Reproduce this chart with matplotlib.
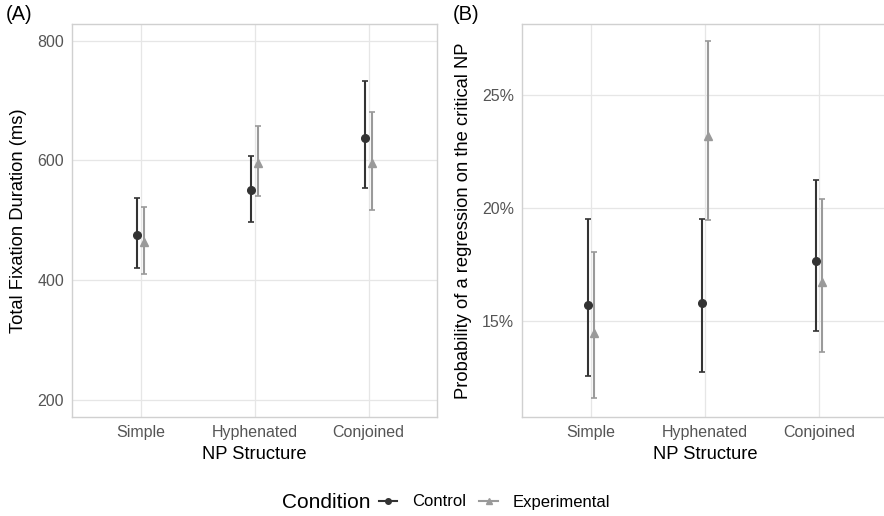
import numpy as np
import matplotlib.pyplot as plt
from matplotlib.lines import Line2D
from matplotlib.offsetbox import HPacker

categories = ["Simple", "Hyphenated", "Conjoined"]

# Panel A: total fixation duration (ms)
tfd_control = [476, 550, 637]
tfd_control_lo = [421, 498, 554]
tfd_control_hi = [538, 608, 733]
tfd_exp = [464, 596, 595]
tfd_exp_lo = [410, 540, 518]
tfd_exp_hi = [522, 657, 681]

# Panel B: probability of regression (%)
reg_control = [15.7, 15.8, 17.65]
reg_control_lo = [12.55, 12.7, 14.55]
reg_control_hi = [19.5, 19.5, 21.25]
reg_exp = [14.45, 23.2, 16.7]
reg_exp_lo = [11.55, 19.45, 13.6]
reg_exp_hi = [18.05, 27.4, 20.4]

dark = "#333333"
light = "#9a9a9a"
dodge = 0.028

plt.rcParams['font.family'] = ['Liberation Sans', 'DejaVu Sans']

fig = plt.figure(figsize=(8.84, 5.16), dpi=100)
W, H = 884, 516
axA = fig.add_axes([72.3 / W, 1 - 416.7 / H, (437 - 72.3) / W, (416.7 - 24) / H])
axB = fig.add_axes([522.3 / W, 1 - 416.7 / H, (887.5 - 522.3) / W, (416.7 - 24) / H])


def draw(ax, ctl, clo, chi, exp, elo, ehi):
    x = np.arange(1, len(categories) + 1)
    ctl, clo, chi = map(np.array, (ctl, clo, chi))
    exp, elo, ehi = map(np.array, (exp, elo, ehi))
    ax.errorbar(x - dodge, ctl, yerr=[ctl - clo, chi - ctl], fmt='o', color=dark,
                ms=5.5, elinewidth=1.5, capsize=2.5, capthick=1.2, zorder=3)
    ax.errorbar(x + dodge, exp, yerr=[exp - elo, ehi - exp], fmt='^', color=light,
                ms=6, elinewidth=1.5, capsize=2.5, capthick=1.2, zorder=3)
    ax.set_xlim(0.4, 3.6)
    ax.set_xticks(x)
    ax.set_xticklabels(categories)
    ax.grid(True, color="#e6e6e6", linewidth=0.9)
    ax.set_axisbelow(True)
    for s in ax.spines.values():
        s.set_color("#d0d0d0")
        s.set_linewidth(1.0)
    ax.tick_params(length=0, labelsize=11.5, labelcolor="#555555", pad=6)
    ax.set_xlabel("NP Structure", fontsize=13.2, labelpad=4)


draw(axA, tfd_control, tfd_control_lo, tfd_control_hi, tfd_exp, tfd_exp_lo, tfd_exp_hi)
axA.set_ylim(172, 828)
axA.set_yticks([200, 400, 600, 800])
axA.set_ylabel("Total Fixation Duration (ms)", fontsize=13.2, labelpad=7)

draw(axB, reg_control, reg_control_lo, reg_control_hi, reg_exp, reg_exp_lo, reg_exp_hi)
axB.set_ylim(10.74, 28.15)
axB.set_yticks([15, 20, 25])
axB.set_yticklabels(["15%", "20%", "25%"])
axB.set_ylabel("Probability of a regression on the critical NP", fontsize=13.2, labelpad=7)

fig.text(6 / W, 1 - 15 / H, "(A)", fontsize=14.5, va='center', ha='left')
fig.text(453 / W, 1 - 15 / H, "(B)", fontsize=14.5, va='center', ha='left')

handles = [
    Line2D([], [], color=dark, marker='o', ms=4, lw=1.5),
    Line2D([], [], color=light, marker='^', ms=4.5, lw=1.5),
]
leg = fig.legend(handles, ["Control", "Experimental"], loc='center',
                 bbox_to_anchor=(446 / W, 1 - 502 / H), ncol=2, frameon=False,
                 title="Condition", fontsize=12, title_fontsize=15,
                 handlelength=1.1, columnspacing=0.8, handletextpad=0.9)
# put title on the same row as the entries
title_box = leg._legend_title_box
leg._legend_box._children = [HPacker(children=[title_box, leg._legend_handle_box],
                                     align="center", pad=0, sep=6)]

fig.savefig("out.png", dpi=100)
